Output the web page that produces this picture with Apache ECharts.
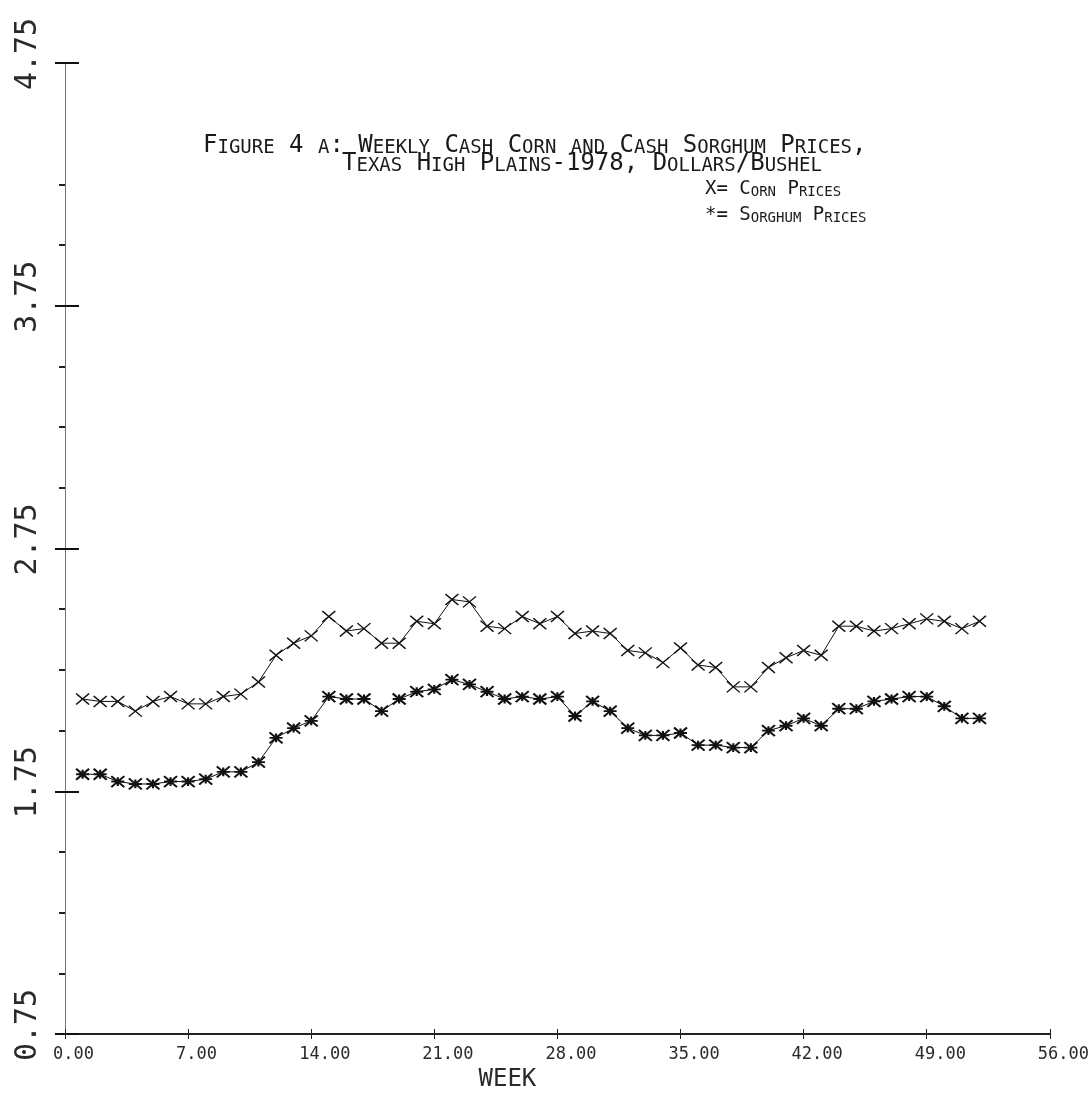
<!DOCTYPE html>
<html>
<head>
<meta charset="utf-8">
<title>Weekly Cash Corn and Cash Sorghum Prices, Texas High Plains 1978</title>
<script src="https://cdn.jsdelivr.net/npm/echarts@6/dist/echarts.min.js"></script>
<style>
  html, body { margin: 0; padding: 0; background: #ffffff; }
  #chart { width: 1092px; height: 1097px; }
</style>
</head>
<body>
<div id="chart"></div>
<script>
// Week numbers (1978)
const weeks = [1, 2, 3, 4, 5, 6, 7, 8, 9, 10,
  11, 12, 13, 14, 15, 16, 17, 18, 19, 20,
  21, 22, 23, 24, 25, 26, 27, 28, 29, 30,
  31, 32, 33, 34, 35, 36, 37, 38, 39, 40,
  41, 42, 43, 44, 45, 46, 47, 48, 49, 50,
  51, 52];

// Cash corn price, dollars per bushel
const cornPrices = [2.13, 2.12, 2.12, 2.08, 2.12, 2.14, 2.11, 2.11, 2.14, 2.15,
  2.20, 2.31, 2.36, 2.39, 2.47, 2.41, 2.42, 2.36, 2.36, 2.45,
  2.44, 2.54, 2.53, 2.43, 2.42, 2.47, 2.44, 2.47, 2.40, 2.41,
  2.40, 2.33, 2.32, 2.28, 2.34, 2.27, 2.26, 2.18, 2.18, 2.26,
  2.30, 2.33, 2.31, 2.43, 2.43, 2.41, 2.42, 2.44, 2.46, 2.45,
  2.42, 2.45];

// Cash sorghum price, dollars per bushel
const sorghumPrices = [1.82, 1.82, 1.79, 1.78, 1.78, 1.79, 1.79, 1.80, 1.83, 1.83,
  1.87, 1.97, 2.01, 2.04, 2.14, 2.13, 2.13, 2.08, 2.13, 2.16,
  2.17, 2.21, 2.19, 2.16, 2.13, 2.14, 2.13, 2.14, 2.06, 2.12,
  2.08, 2.01, 1.98, 1.98, 1.99, 1.94, 1.94, 1.93, 1.93, 2.00,
  2.02, 2.05, 2.02, 2.09, 2.09, 2.12, 2.13, 2.14, 2.14, 2.10,
  2.05, 2.05];

// Axis ticks
const yMajorTicks = [0.75, 1.75, 2.75, 3.75, 4.75];
const yMinorTicks = [1.0, 1.25, 1.5, 2.0, 2.25, 2.5, 3.0, 3.25, 3.5, 4.0, 4.25];

// Caption and key text
const titleLine1 = 'Figure 4 a: Weekly Cash Corn and Cash Sorghum Prices,';
const titleLine2 = 'Texas High Plains-1978, Dollars/Bushel';
const keyCorn = 'X= Corn Prices';
const keySorghum = '*= Sorghum Prices';
const xName = 'WEEK';

const MONO = '"DejaVu Sans Mono", "Liberation Mono", monospace';
const INK = '#1a1a1a';

// Plotter-style small caps: lowercase letters become smaller capitals
function smallCaps(str) {
  let out = '', cur = null, buf = '';
  for (const ch of str) {
    const cls = (ch >= 'a' && ch <= 'z') ? 's' : 'b';
    if (cls !== cur && buf) { out += '{' + cur + '|' + buf + '}'; buf = ''; }
    cur = cls;
    buf += cls === 's' ? ch.toUpperCase() : ch;
  }
  if (buf) out += '{' + cur + '|' + buf + '}';
  return out;
}

function capsStyle(big, small) {
  return {
    b: { fontFamily: MONO, fontSize: big, fontWeight: 'normal', color: INK, verticalAlign: 'bottom' },
    s: { fontFamily: MONO, fontSize: small, fontWeight: 'normal', color: INK, verticalAlign: 'bottom' }
  };
}

function caption(text, left, top, big, small) {
  return {
    text: smallCaps(text),
    left: left,
    top: top,
    padding: 0,
    textStyle: { fontWeight: 'normal', rich: capsStyle(big, small) }
  };
}

const pairs = (ys) => weeks.map((w, i) => [w, ys[i]]);

const chart = echarts.init(document.getElementById('chart'), null, { renderer: 'canvas' });

const yBase = { type: 'value', min: 0.75, max: 4.75, position: 'left', splitLine: { show: false } };
const xBase = { type: 'value', min: 0, max: 56, interval: 7, position: 'bottom', splitLine: { show: false } };

chart.setOption({
  backgroundColor: '#ffffff',
  animation: false,
  title: [
    caption(titleLine1, 203, 134, 24, 19),
    caption(titleLine2, 342, 152, 24, 19),
    caption(keyCorn, 705, 180, 19, 14),
    caption(keySorghum, 705, 206, 19, 14)
  ],
  grid: { left: 65, right: 41, top: 63, bottom: 55, containLabel: false },
  xAxis: [
    Object.assign({}, xBase, {
      axisLine: { show: true, lineStyle: { color: '#222', width: 2 } },
      axisTick: { show: true, length: 5, lineStyle: { color: '#222', width: 1 } },
      axisLabel: {
        show: true, margin: 12, align: 'left', padding: [0, 0, 0, -12],
        fontFamily: MONO, fontSize: 17, color: '#2a2a2a',
        formatter: (v) => v.toFixed(2)
      },
      name: xName, nameLocation: 'middle', nameGap: 34,
      nameTextStyle: { fontFamily: MONO, fontSize: 24, color: '#2a2a2a', padding: [0, 100, 0, 0] }
    }),
    Object.assign({}, xBase, {
      axisLine: { show: false },
      axisTick: { show: true, inside: true, length: 5, lineStyle: { color: '#222', width: 1 } },
      axisLabel: { show: false }
    })
  ],
  yAxis: [
    Object.assign({}, yBase, {
      axisLine: { show: true, lineStyle: { color: '#777', width: 1 } },
      axisTick: { show: true, customValues: yMajorTicks, length: 10, lineStyle: { color: '#111', width: 2 } },
      axisLabel: {
        show: true, customValues: yMajorTicks, rotate: 90, margin: 22,
        padding: [0, 0, 0, 18],
        fontFamily: MONO, fontSize: 30, color: '#2a2a2a',
        formatter: (v) => v.toFixed(2)
      }
    }),
    Object.assign({}, yBase, {
      axisLine: { show: false },
      axisTick: { show: true, inside: true, customValues: yMajorTicks, length: 14, lineStyle: { color: '#111', width: 2 } },
      axisLabel: { show: false }
    }),
    Object.assign({}, yBase, {
      axisLine: { show: false },
      axisTick: { show: true, customValues: yMinorTicks, length: 6, lineStyle: { color: '#222', width: 2 } },
      axisLabel: { show: false }
    })
  ],
  series: [
    {
      name: 'Corn Prices',
      type: 'line',
      data: pairs(cornPrices),
      symbol: 'path://M0,0L10,10M10,0L0,10',
      symbolSize: [13, 11],
      lineStyle: { color: '#111', width: 1 },
      itemStyle: { color: '#111', borderColor: '#111', borderWidth: 1.4 },
      z: 3
    },
    {
      name: 'Sorghum Prices',
      type: 'line',
      data: pairs(sorghumPrices),
      symbol: 'path://M0,0L10,10M10,0L0,10M0,5L10,5M5,1L5,9',
      symbolSize: [13, 11],
      lineStyle: { color: '#111', width: 1 },
      itemStyle: { color: '#111', borderColor: '#111', borderWidth: 2 },
      z: 3
    }
  ]
});
</script>
</body>
</html>
